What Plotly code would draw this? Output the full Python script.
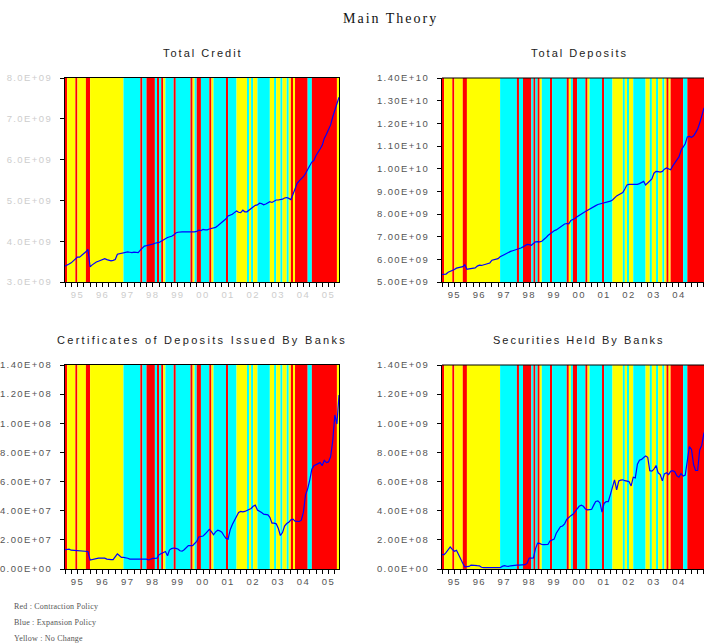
import pandas as pd
import plotly.graph_objects as go

# ---------------- data ----------------
months = pd.date_range("1995-01-01", periods=132, freq="MS")

# policy regime per month: R = contraction, C = expansion (cyan), Y = no change
policy_regime = list(
    "R" + "YYYY" + "R" + "YYYY" + "RR" + "YYYYYYYYYYYYYYYY" + "CCCCCCCC" + "R" + "CC"
    + "RRRR" + "C" + "R" + "C" + "R" + "Y" + "CCCC" + "R" + "CCCCCCC" + "R" + "Y" + "C"
    + "RR" + "CCCC" + "R" + "Y" + "CCCCCC" + "R" + "CCCC" + "YYYYY" + "C" + "Y" + "C"
    + "YY" + "CCCCCC" + "YY" + "C" + "YY" + "C" + "YY" + "C" + "Y" + "R" + "Y"
    + "RRRRRR" + "CC" + "RRRRRRRRRRRR" + "YY"
)

total_credit_e9 = [
    3.39, 3.41, 3.44, 3.47, 3.52, 3.58, 3.61, 3.61, 3.65, 3.70, 3.74, 3.80,
    3.37, 3.42, 3.46, 3.49, 3.51, 3.53, 3.56, 3.57, 3.55, 3.54, 3.52, 3.53,
    3.55, 3.68, 3.69, 3.70, 3.72, 3.74, 3.74, 3.73, 3.72, 3.73, 3.72, 3.72,
    3.78, 3.83, 3.88, 3.89, 3.90, 3.91, 3.93, 3.95, 3.96, 3.97, 4.00, 4.02,
    4.06, 4.09, 4.10, 4.12, 4.15, 4.20, 4.22, 4.23, 4.23, 4.23, 4.23, 4.23,
    4.23, 4.22, 4.23, 4.24, 4.27, 4.26, 4.29, 4.28, 4.28, 4.30, 4.32, 4.33,
    4.34, 4.38, 4.42, 4.46, 4.50, 4.55, 4.62, 4.64, 4.66, 4.70, 4.74, 4.71,
    4.70, 4.76, 4.72, 4.72, 4.76, 4.79, 4.82, 4.88, 4.89, 4.93, 4.92, 4.89,
    4.91, 4.94, 4.97, 4.95, 4.98, 5.01, 5.01, 5.02, 5.03, 5.06, 5.07, 5.05,
    5.02, 5.15, 5.30, 5.42, 5.48, 5.52, 5.58, 5.66, 5.78, 5.85, 5.94, 5.98,
    6.10, 6.20, 6.26, 6.35, 6.52, 6.62, 6.75, 6.85, 7.05, 7.20, 7.40, 7.53,
]

total_deposits_e9 = [
    5.33, 5.33, 5.35, 5.43, 5.47, 5.49, 5.55, 5.61, 5.64, 5.66, 5.68, 5.76,
    5.56, 5.58, 5.59, 5.60, 5.62, 5.70, 5.74, 5.73, 5.76, 5.78, 5.80, 5.84,
    5.96, 5.98, 6.00, 6.03, 6.11, 6.16, 6.23, 6.28, 6.31, 6.35, 6.38, 6.41,
    6.42, 6.44, 6.50, 6.55, 6.60, 6.66, 6.65, 6.62, 6.70, 6.77, 6.78, 6.77,
    6.80, 6.86, 6.95, 7.05, 7.12, 7.20, 7.26, 7.30, 7.36, 7.43, 7.48, 7.56,
    7.58, 7.57, 7.72, 7.75, 7.80, 7.88, 7.95, 8.02, 8.06, 8.11, 8.17, 8.23,
    8.27, 8.33, 8.37, 8.42, 8.44, 8.47, 8.49, 8.52, 8.54, 8.57, 8.62, 8.73,
    8.80, 8.85, 8.90, 8.95, 9.10, 9.28, 9.31, 9.31, 9.29, 9.28, 9.31, 9.34,
    9.38, 9.44, 9.28, 9.36, 9.45, 9.55, 9.80, 9.88, 9.87, 9.85, 9.88, 9.98,
    10.03, 10.00, 9.95, 10.12, 10.24, 10.38, 10.52, 10.80, 10.95, 11.10, 11.40, 11.42,
    11.38, 11.45, 11.58, 11.75, 12.01, 12.35, 12.65, 12.80, 12.95, 13.10, 13.20, 13.35,
]

cds_issued_e7 = [
    1.32, 1.35, 1.36, 1.29, 1.28, 1.28, 1.27, 1.25, 1.21, 1.21, 1.21, 1.20,
    0.62, 0.66, 0.70, 0.75, 0.75, 0.75, 0.75, 0.74, 0.68, 0.64, 0.64, 0.64,
    0.87, 1.04, 0.93, 0.80, 0.80, 0.79, 0.74, 0.68, 0.68, 0.68, 0.68, 0.68,
    0.68, 0.68, 0.68, 0.68, 0.62, 0.70, 0.73, 0.73, 0.75, 0.98, 1.06, 1.14,
    1.20, 0.91, 1.30, 1.40, 1.44, 1.42, 1.37, 1.25, 1.22, 1.32, 1.45, 1.60,
    1.60, 1.60, 1.75, 1.90, 2.20, 2.24, 2.26, 2.40, 2.60, 2.72, 2.56, 2.35,
    2.55, 2.66, 2.62, 2.52, 2.30, 2.10, 2.05, 2.70, 3.05, 3.30, 3.60, 3.88,
    3.95, 3.92, 3.95, 4.02, 4.08, 4.15, 4.30, 4.38, 4.05, 3.98, 3.88, 3.76,
    3.74, 3.72, 3.55, 3.15, 3.15, 3.10, 2.80, 2.30, 2.50, 2.95, 3.12, 3.20,
    3.38, 3.42, 3.28, 3.26, 3.26, 3.35, 3.90, 5.09, 5.50, 6.10, 6.85, 7.08,
    7.15, 7.20, 7.30, 7.10, 7.45, 7.30, 7.35, 7.70, 8.80, 10.57, 9.95, 11.94,
]

securities_e8 = [
    0.98, 0.98, 1.12, 1.30, 1.51, 1.35, 1.22, 1.28, 0.95, 0.75, 0.40, 0.14,
    0.14, 0.18, 0.27, 0.24, 0.23, 0.23, 0.22, 0.12, 0.09, 0.09, 0.09, 0.09,
    0.09, 0.09, 0.09, 0.09, 0.09, 0.18, 0.23, 0.20, 0.18, 0.22, 0.25, 0.27,
    0.27, 0.27, 0.27, 0.27, 0.30, 0.40, 0.75, 0.75, 0.76, 1.40, 1.78, 1.76,
    1.68, 1.67, 1.67, 1.68, 1.92, 1.96, 2.05, 2.45, 2.72, 2.90, 2.95, 3.10,
    3.40, 3.55, 3.66, 3.75, 3.92, 4.05, 4.30, 4.38, 4.30, 4.12, 4.06, 4.08,
    4.10, 4.40, 4.63, 4.68, 4.55, 3.90, 4.50, 4.63, 4.63, 5.10, 5.60, 6.12,
    5.43, 6.05, 6.10, 6.12, 6.06, 6.03, 6.00, 5.70, 6.30, 6.25, 7.20, 7.46,
    7.52, 7.65, 7.76, 7.67, 6.75, 6.72, 6.85, 7.10, 6.60, 6.48, 6.05, 6.53,
    6.60, 6.48, 6.70, 6.75, 6.68, 6.40, 6.30, 6.55, 6.38, 6.45, 7.60, 8.40,
    8.20, 7.15, 6.76, 6.76, 8.17, 8.50, 9.30, 9.60, 9.90, 10.10, 10.30, 10.60,
]

year_tick_dates = ["1995-07-01", "1996-07-01", "1997-07-01", "1998-07-01", "1999-07-01",
                   "2000-07-01", "2001-07-01", "2002-07-01", "2003-07-01", "2004-07-01",
                   "2005-07-01"]
year_tick_labels = ["95", "96", "97", "98", "99", "00", "01", "02", "03", "04", "05"]

credit_tick_vals = [3e9, 4e9, 5e9, 6e9, 7e9, 8e9]
credit_tick_text = ["3.0E+09", "4.0E+09", "5.0E+09", "6.0E+09", "7.0E+09", "8.0E+09"]
deposit_tick_vals = [5e9, 6e9, 7e9, 8e9, 9e9, 1e10, 1.1e10, 1.2e10, 1.3e10, 1.4e10]
deposit_tick_text = ["5.00E+09", "6.00E+09", "7.00E+09", "8.00E+09", "9.00E+09",
                     "1.00E+10", "1.10E+10", "1.20E+10", "1.30E+10", "1.40E+10"]
cd_tick_vals = [0, 2e7, 4e7, 6e7, 8e7, 1e8, 1.2e8, 1.4e8]
cd_tick_text = ["0.00E+00", "2.00E+07", "4.00E+07", "6.00E+07", "8.00E+07",
                "1.00E+08", "1.20E+08", "1.40E+08"]
sec_tick_vals = [0, 2e8, 4e8, 6e8, 8e8, 1e9, 1.2e9, 1.4e9]
sec_tick_text = ["0.00E+00", "2.00E+08", "4.00E+08", "6.00E+08", "8.00E+08",
                 "1.00E+09", "1.20E+09", "1.40E+09"]

regime_colors = {"R": "#FF0000", "C": "#00FFFF", "Y": "#FFFF00"}

# ---------------- layout helpers ----------------
W, H = 704, 643


def sp(text, px):
    return f'<span style="letter-spacing:{px}px">{text}</span>'


def px_x(x):
    return x / W


def px_y(y):
    return 1 - y / H


def xd(p0, p1):
    return [px_x(p0), min(px_x(p1), 1.0)]


def yd(top, bottom):
    return [px_y(bottom), px_y(top)]


fig = go.Figure()

panels = [
    dict(ax="", x=total_credit_e9, scale=1e9, xdom=xd(65, 339), ydom=yd(78, 282),
         xr=["1995-01-01", "2005-12-01"], yr=[3e9, 8e9], tv=credit_tick_vals,
         tt=credit_tick_text, lab="#cdcdcd", mirror=True),
    dict(ax="2", x=total_deposits_e9, scale=1e9, xdom=xd(442, 704), ydom=yd(78, 282),
         xr=["1995-01-01", "2005-07-03"], yr=[5e9, 1.4e10], tv=deposit_tick_vals,
         tt=deposit_tick_text, lab="#555555", mirror=False),
    dict(ax="3", x=cds_issued_e7, scale=1e7, xdom=xd(65, 339), ydom=yd(365, 569),
         xr=["1995-01-01", "2005-12-01"], yr=[0, 1.4e8], tv=cd_tick_vals,
         tt=cd_tick_text, lab="#555555", mirror=True),
    dict(ax="4", x=securities_e8, scale=1e8, xdom=xd(442, 704), ydom=yd(365, 569),
         xr=["1995-01-01", "2005-07-03"], yr=[0, 1.4e9], tv=sec_tick_vals,
         tt=sec_tick_text, lab="#555555", mirror=False),
]

quarter_ticks = list(pd.date_range("1995-01-01", "2006-01-01", freq="QS"))

shapes = []
for p in panels:
    a = p["ax"]
    xname, yname = "x" + a, "y" + a
    # regime bands
    start = 0
    for i in range(1, len(policy_regime) + 1):
        if i == len(policy_regime) or policy_regime[i] != policy_regime[start]:
            x0 = months[start]
            x1 = months[i] if i < len(months) else months[-1] + pd.DateOffset(months=1)
            shapes.append(dict(type="rect", xref=xname, yref=yname + " domain",
                               x0=x0, x1=x1, y0=0, y1=1, layer="below",
                               fillcolor=regime_colors[policy_regime[start]],
                               line=dict(width=0)))
            start = i
    if not p["mirror"]:
        shapes.append(dict(type="line", xref=xname + " domain", yref=yname + " domain",
                           x0=0, x1=1, y0=1, y1=1, line=dict(color="black", width=1)))

    fig.add_trace(go.Scatter(
        x=months, y=[v * p["scale"] for v in p["x"]], mode="lines",
        line=dict(color="#0000FF", width=1.2), xaxis=xname, yaxis=yname,
        showlegend=False, hoverinfo="skip"))

    tickfont = dict(family="Liberation Sans, Arial, sans-serif", size=9.5, color=p["lab"])
    fig.update_layout(**{
        "xaxis" + a: dict(
            domain=p["xdom"], anchor=yname, type="date", range=p["xr"],
            tickmode="array", tickvals=year_tick_dates,
            ticktext=[sp(t, 1.4) for t in year_tick_labels],
            ticks="outside", ticklen=4, tickcolor="black", tickwidth=1,
            minor=dict(ticks="outside", tickmode="array", tickvals=quarter_ticks,
                       ticklen=4, tickcolor="black", tickwidth=1, showgrid=False),
            showline=True, linecolor="black", linewidth=1, mirror=p["mirror"],
            showgrid=False, zeroline=False, tickfont=tickfont, fixedrange=True,
            automargin=False),
        "yaxis" + a: dict(
            domain=p["ydom"], anchor=xname, range=p["yr"],
            tickmode="array", tickvals=p["tv"], ticktext=[sp(t, 1.4) for t in p["tt"]],
            ticks="outside", ticklen=4, tickcolor="black", tickwidth=1,
            ticklabelstandoff=6,
            showline=True, linecolor="black", linewidth=1, mirror=p["mirror"],
            showgrid=False, zeroline=False, tickfont=tickfont, fixedrange=True,
            automargin=False),
    })

title_font = dict(family="Liberation Sans, Arial, sans-serif", size=11, color="#222222")


def ann(text, x, y, font, xanchor="center"):
    return dict(text=text, x=px_x(x), y=px_y(y), xref="paper", yref="paper",
                showarrow=False, xanchor=xanchor, yanchor="middle", font=font)


annotations = [
    ann(sp("Main Theory", 2), 390, 19,
        dict(family="Liberation Serif, Times New Roman, serif", size=14, color="#111111")),
    ann(sp("Total Credit", 2), 203, 53, title_font),
    ann(sp("Total Deposits", 2), 579, 53, title_font),
    ann(sp("Certificates of Deposits Issued By Banks", 2.3), 202, 340, title_font),
    ann(sp("Securities Held By Banks", 2), 579, 340, title_font),
]
legend_font = dict(family="Liberation Serif, Times New Roman, serif", size=8, color="#555555")
for txt, ypx in [("Red : Contraction Policy", 606), ("Blue : Expansion Policy", 622),
                 ("Yellow : No Change", 638)]:
    annotations.append(ann(sp(txt, 0.2), 12, ypx, legend_font, xanchor="left"))

fig.update_layout(
    width=W, height=H, margin=dict(l=0, r=0, t=0, b=0, autoexpand=False),
    paper_bgcolor="white", plot_bgcolor="white",
    shapes=shapes, annotations=annotations, showlegend=False,
)

# let the 704x643 figure sit exactly in the 704x643 window (no default body margin)
fig.write_html(
    "out.html",
    config={"displayModeBar": False},
    post_script="document.body.style.margin='0px';"
                "document.documentElement.style.overflow='hidden';",
)
